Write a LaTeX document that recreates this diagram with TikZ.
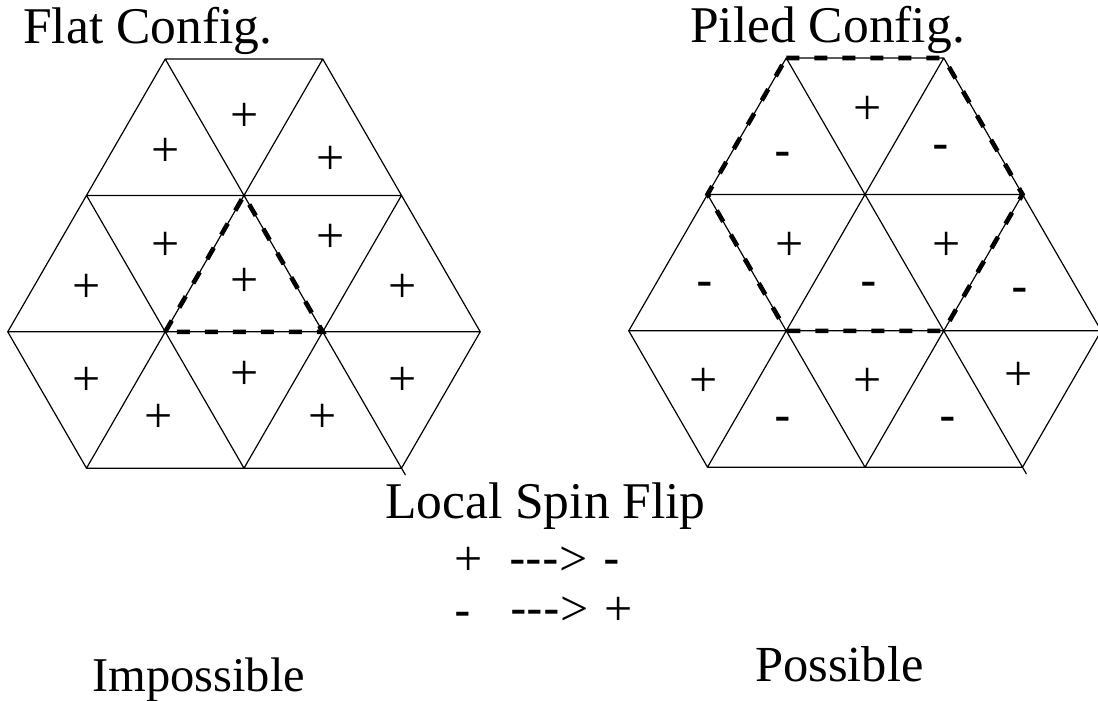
\documentclass[tikz,border=0pt]{standalone}
\usepackage{fontspec}
\setmainfont{Liberation Serif}
\newfontfamily\sansf{Liberation Sans}
\usetikzlibrary{calc}
\newcommand\hexgrid[1]{%
  \coordinate (#1A1) at (165.25,59);
  \coordinate (#1A2) at (322.75,59);
  \coordinate (#1B1) at (86.5,195.4);
  \coordinate (#1B2) at (244,195.4);
  \coordinate (#1B3) at (401.5,195.4);
  \coordinate (#1C1) at (7.75,331.8);
  \coordinate (#1C2) at (165.25,331.8);
  \coordinate (#1C3) at (322.75,331.8);
  \coordinate (#1C4) at (480.25,331.8);
  \coordinate (#1D1) at (86.5,468.2);
  \coordinate (#1D2) at (244,468.2);
  \coordinate (#1D3) at (401.5,468.2);
  \draw[gridline] (#1A1)--(#1A2) (#1B1)--(#1B3) (#1C1)--(#1C4) (#1D1)--(#1D3)
    (#1C1)--(#1A1) (#1D1)--(#1A2) (#1D2)--(#1B3) (#1D3)--(#1C4)
    (#1A2)--(#1C4) (#1A1)--($(#1A1)!1.016!(#1D3)$) (#1B1)--(#1D2) (#1C1)--(#1D1);
}
\begin{document}
\begin{tikzpicture}[x=1pt,y=-1pt,
  gridline/.style={line width=1.2pt, line cap=round, line join=round},
  flipline/.style={line width=4.6pt, dash pattern=on 13pt off 15pt},
  lab/.style={anchor=base, inner sep=0pt, font=\fontsize{50}{60}\selectfont},
  ttl/.style={anchor=base west, inner sep=0pt, font=\fontsize{51.5}{60}\selectfont}]
\useasboundingbox (0,0) rectangle (1098,701);

% left lattice (flat)
\begin{scope}
  \hexgrid{L}
  \draw[flipline] (LC2)--(LB2)--(LC3)--cycle;
\end{scope}
% right lattice (piled)
\begin{scope}[shift={(621,-1)}]
  \hexgrid{R}
  \draw[flipline] (RA1)--(RA2)--(RB3)--(RC3)--(RC2)--(RB1)--cycle;
\end{scope}

% spins, left (glyph centres)
\foreach \x/\y [count=\i] in {166/153,245/118,331/161,87/289,166/247,245/283,331/239,403/289,87/382,159/419,245/376,323/419,403/382}
  \node[lab] (lp\i) at (\x,\y+13) {+};

% spins, right
\foreach \x/\y [count=\i] in {868/111,790/247,947/247,704/383,868/383,1019/377}
  \node[lab] (rp\i) at (\x,\y+13) {+};
\foreach \x/\y [count=\i] in {783/154,941/147,705/284,869/284,1020/290,783/419,948/419}
  \node[lab, font=\fontsize{50}{60}\sansf] (rm\i) at (\x,\y+13.5) {-};

% titles
\node[ttl] (flat) at (23,44) {Flat Config.};
\node[ttl] (piled) at (690,43) {Piled Config.};
\node[ttl] (local) at (385,518) {Local Spin Flip};
\node[ttl, font=\fontsize{48.5}{60}\selectfont] (imp) at (92,691) {Impossible};
\node[ttl, font=\fontsize{50.5}{60}\selectfont] (pos) at (755,681) {Possible};

% flip rules
\node[lab] (r1a) at (468.5,575) {+};
\node[anchor=base west, inner sep=0pt, font=\fontsize{50}{60}\selectfont] (r1b) at (509,575) {{\sansf -{}-{}-}>};
\node[lab, font=\fontsize{50}{60}\sansf] (r1c) at (611.5,575.5) {-};
\node[lab, font=\fontsize{50}{60}\sansf] (r2a) at (462.5,627.5) {-};
\node[anchor=base west, inner sep=0pt, font=\fontsize{50}{60}\selectfont] (r2b) at (510,625) {{\sansf -{}-{}-}>};
\node[lab] (r2c) at (618.5,625) {+};
\end{tikzpicture}
\end{document}
